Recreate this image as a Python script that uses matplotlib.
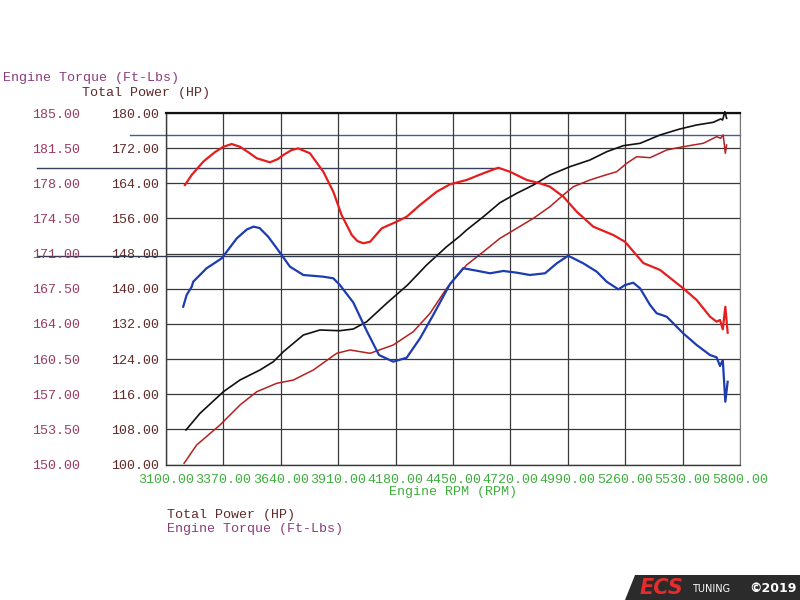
import numpy as np
import matplotlib
matplotlib.use("Agg")
import matplotlib.pyplot as plt
from matplotlib.patches import Polygon
import matplotlib.transforms as mtransforms

# ---------------- data ----------------
rpm_ticks = [3100, 3370, 3640, 3910, 4180, 4450, 4720, 4990, 5260, 5530, 5800]
hp_ticks = [100, 108, 116, 124, 132, 140, 148, 156, 164, 172, 180]
tq_ticks = [150.0, 153.5, 157.0, 160.5, 164.0, 167.5, 171.0, 174.5, 178.0, 181.5, 185.0]

tq_red_rpm = [3189, 3221, 3275, 3330, 3370, 3409, 3448, 3490, 3527, 3589, 3625, 3652, 3690, 3722,
              3777, 3840, 3887, 3926, 3974, 4000, 4028, 4060, 4115, 4185, 4232, 4295, 4373,
              4436, 4514, 4593, 4663, 4718, 4797, 4859, 4906, 4969, 5032, 5110, 5204, 5259,
              5345, 5424, 5533, 5596, 5659, 5690, 5706, 5719, 5731, 5742]
tq_red = [177.83, 178.83, 180.15, 181.10, 181.64, 181.91, 181.64, 181.05, 180.49, 180.09,
          180.40, 180.82, 181.30, 181.48, 180.99, 179.15, 177.16, 174.84, 172.85, 172.25,
          172.03, 172.18, 173.52, 174.18, 174.67, 175.84, 177.16, 177.90, 178.33, 179.00,
          179.55, 179.15, 178.33, 178.00, 177.66, 176.67, 175.17, 173.68, 172.85, 172.18,
          170.06, 169.37, 167.54, 166.38, 164.72, 164.22, 164.39, 163.46, 165.71, 163.12]

tq_blue_rpm = [3181, 3197, 3221, 3228, 3291, 3362, 3433, 3480, 3511, 3540, 3580, 3621, 3683,
               3746, 3840, 3887, 3918, 3981, 4044, 4102, 4169, 4232, 4295, 4357, 4436, 4498,
               4561, 4624, 4687, 4750, 4812, 4883, 4938, 4992, 5063, 5126, 5173, 5228, 5259,
               5298, 5330, 5377, 5408, 5455, 5533, 5596, 5659, 5690, 5706, 5719, 5731, 5742]
tq_blue = [165.71, 166.88, 167.70, 168.20, 169.54, 170.53, 172.52, 173.40, 173.68, 173.55,
           172.70, 171.53, 169.70, 168.87, 168.70, 168.54, 167.87, 166.13, 163.31, 160.90,
           160.24, 160.63, 162.57, 164.89, 167.97, 169.54, 169.30, 169.04, 169.27, 169.10,
           168.87, 169.04, 170.03, 170.79, 170.03, 169.20, 168.20, 167.44, 167.87, 168.10,
           167.54, 165.88, 165.06, 164.72, 163.06, 161.90, 160.90, 160.67, 159.81, 160.41,
           156.25, 158.24]

hp_black_rpm = [3194, 3260, 3370, 3448, 3542, 3605, 3652, 3746, 3824, 3918, 3981, 4044, 4138,
                4236, 4326, 4420, 4483, 4514, 4593, 4671, 4750, 4828, 4906, 5000, 5094, 5173,
                5251, 5330, 5424, 5517, 5596, 5674, 5709, 5718, 5729, 5737]
hp_black = [107.85, 111.65, 116.57, 119.23, 121.51, 123.40, 125.67, 129.47, 130.61, 130.45,
            130.84, 132.50, 136.69, 140.85, 145.41, 149.57, 152.01, 153.37, 156.40, 159.59,
            161.73, 163.61, 165.89, 167.78, 169.30, 171.19, 172.56, 173.10, 175.00, 176.36,
            177.27, 177.88, 178.64, 178.41, 180.30, 178.79]

hp_dred_rpm = [3185, 3244, 3354, 3448, 3527, 3621, 3699, 3793, 3903, 3966, 4060, 4169, 4263,
               4342, 4420, 4514, 4593, 4671, 4750, 4828, 4906, 4969, 5016, 5094, 5157, 5220,
               5267, 5314, 5377, 5455, 5533, 5627, 5690, 5709, 5721, 5731, 5737]
hp_dred = [100.27, 104.44, 108.99, 113.54, 116.57, 118.48, 119.23, 121.51, 125.31, 126.06,
           125.31, 127.20, 130.23, 134.41, 140.10, 145.41, 148.43, 151.48, 153.76, 156.03,
           158.68, 161.34, 163.23, 164.75, 165.73, 166.64, 168.55, 170.05, 169.83, 171.58,
           172.33, 173.10, 174.61, 174.24, 175.00, 170.83, 172.72]

# ---------------- style ----------------
MONO = ["Liberation Mono", "DejaVu Sans Mono"]
FS = 9.6
C_TQ = "#9a3a62"
C_TQ_TITLE = "#8a3c80"
C_HP = "#5e2a2a"
C_GREEN = "#3fae3f"
C_GRID = "#3a3a3a"

fig = plt.figure(figsize=(8, 6), dpi=100)
fig.patch.set_facecolor("white")
L, R, T, B = 166, 740, 113, 464.5
ax = fig.add_axes([L / 800, 1 - B / 600, (R - L) / 800, (B - T) / 600])
ax2 = ax.twinx()

ax.set_xlim(3100, 5800)
ax.set_ylim(100, 180)
ax2.set_ylim(150, 185)

ax.set_xticks(rpm_ticks)
ax.set_xticklabels([f"{v:.2f}" for v in rpm_ticks], family=MONO, fontsize=FS, color=C_GREEN)
ax.set_yticks(hp_ticks)
ax.set_yticklabels([f"{v:.2f}" for v in hp_ticks], family=MONO, fontsize=FS, color=C_HP)
ax.tick_params(axis="x", length=0, pad=7)
ax.tick_params(axis="y", length=0, pad=5)

ax2.set_yticks(tq_ticks)
ax2.set_yticklabels([f"{v:.2f}" for v in tq_ticks], family=MONO, fontsize=FS, color=C_TQ)
ax2.yaxis.set_ticks_position("left")
ax2.tick_params(axis="y", length=0, pad=62, labelleft=True, labelright=False)

ax.grid(True, color=C_GRID, linewidth=0.9)
for s in ["left", "bottom"]:
    ax.spines[s].set_color(C_GRID)
    ax.spines[s].set_linewidth(1.0)
ax.spines["right"].set_color("#777777")
ax.spines["top"].set_color("#111111")
ax.spines["top"].set_linewidth(1.6)
for s in ax2.spines.values():
    s.set_visible(False)

# peak reference lines (peaks above 4400 rpm)
x0_tq = (37 - L) / (R - L)
x0_hp = (130 - L) / (R - L)
trans2 = mtransforms.blended_transform_factory(ax2.transAxes, ax2.transData)
for rpms, vals, col in [(tq_red_rpm, tq_red, "#3a4060"), (tq_blue_rpm, tq_blue, "#303850")]:
    r_arr = np.array(rpms)
    v_arr = np.array(vals)
    i = int(np.argmax(np.where(r_arr > 4400, v_arr, -np.inf)))
    xf = (r_arr[i] - 3100) / (5800 - 3100)
    ax2.plot([x0_tq, xf], [v_arr[i], v_arr[i]], transform=trans2, color=col, lw=1.0,
             clip_on=False, zorder=1)
transh = mtransforms.blended_transform_factory(ax.transAxes, ax.transData)
pk_hp = max(hp_dred)
ax.plot([x0_hp, 1.0], [pk_hp, pk_hp], transform=transh, color="#4a5aa0", lw=1.0,
        clip_on=False, zorder=1)

# curves
ax.plot(hp_black_rpm, hp_black, color="#111111", lw=1.2, zorder=3, clip_on=False)
ax.plot(hp_dred_rpm, hp_dred, color="#b52020", lw=1.1, zorder=3, clip_on=False)
ax2.plot(tq_red_rpm, tq_red, color="#e41e1e", lw=1.6, zorder=3)
ax2.plot(tq_blue_rpm, tq_blue, color="#1c3cb0", lw=1.6, zorder=3)

# texts
fig.text(3 / 800, 1 - 78 / 600, "Engine Torque (Ft-Lbs)", family=MONO, fontsize=FS,
         color=C_TQ_TITLE, ha="left", va="center")
fig.text(82 / 800, 1 - 93 / 600, "Total Power (HP)", family=MONO, fontsize=FS,
         color=C_HP, ha="left", va="center")
fig.text(453 / 800, 1 - 492 / 600, "Engine RPM (RPM)", family=MONO, fontsize=FS,
         color=C_GREEN, ha="center", va="center")
fig.text(167 / 800, 1 - 515 / 600, "Total Power (HP)", family=MONO, fontsize=FS,
         color=C_HP, ha="left", va="center")
fig.text(167 / 800, 1 - 529 / 600, "Engine Torque (Ft-Lbs)", family=MONO, fontsize=FS,
         color=C_TQ_TITLE, ha="left", va="center")

# watermark badge
badge = Polygon([[625 / 800, 0], [800 / 800, 0], [800 / 800, 25 / 600], [635 / 800, 25 / 600]],
                closed=True, transform=fig.transFigure, facecolor="#2b2b2b", edgecolor="none")
fig.patches.append(badge)
fig.text(640 / 800, 12 / 600, "ECS", family="DejaVu Sans", fontsize=15, fontweight="bold",
         fontstyle="italic", color="#e52b2b", ha="left", va="center")
fig.text(692 / 800, 11 / 600, "TUNING", family="DejaVu Sans", fontsize=7,
         color="white", ha="left", va="center")
fig.text(797 / 800, 11 / 600, "\u00a92019", family="DejaVu Sans", fontsize=9, fontweight="bold",
         color="white", ha="right", va="center")

fig.savefig("out.png", dpi=100)
